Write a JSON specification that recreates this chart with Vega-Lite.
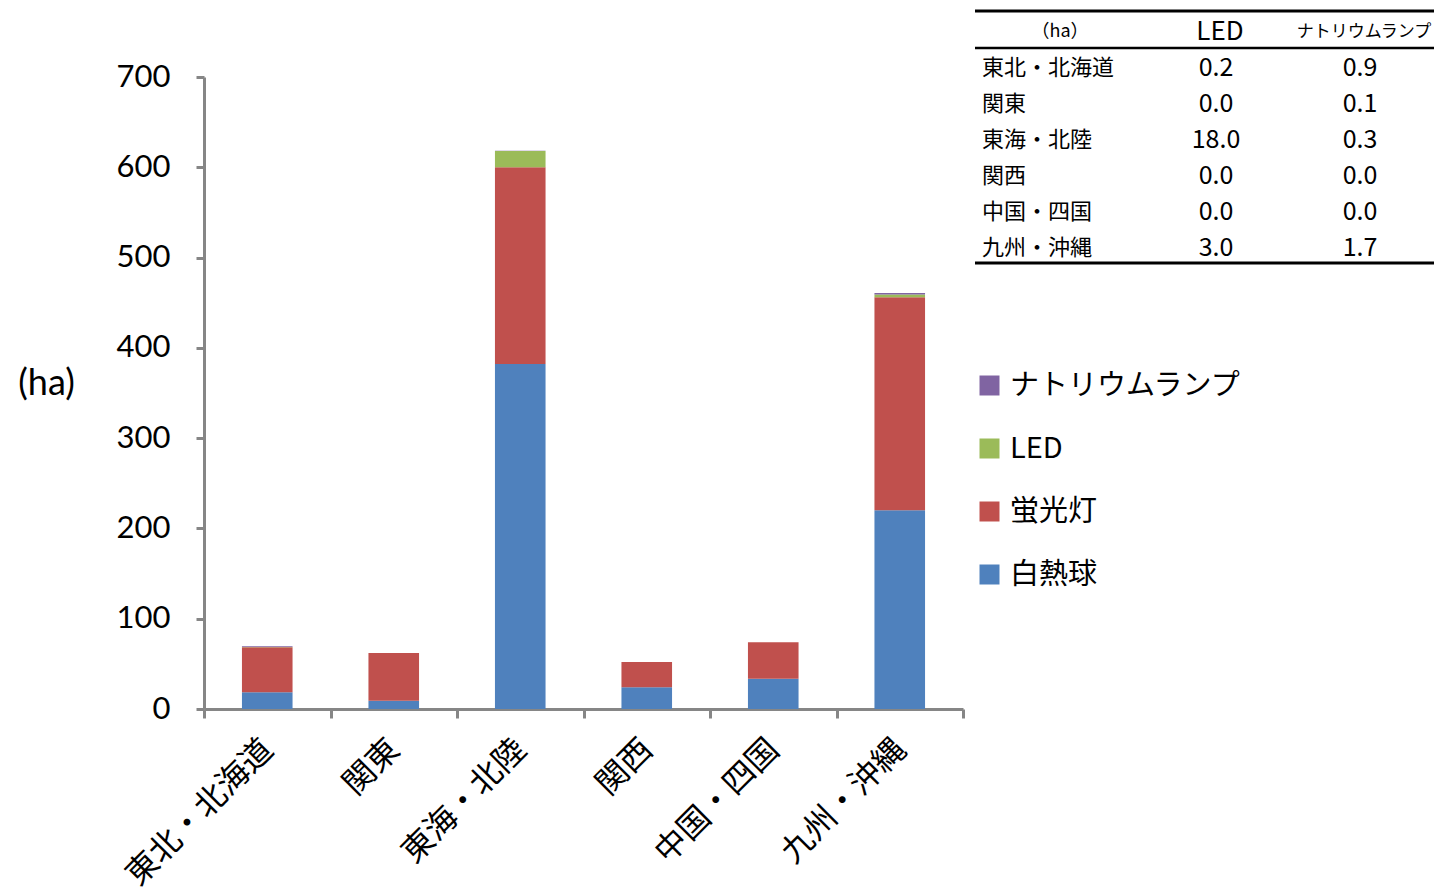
{
  "$schema": "https://vega.github.io/schema/vega-lite/v6.json",
  "width": 759,
  "height": 632,
  "autosize": "none",
  "padding": {"left": 204, "top": 77, "right": 471, "bottom": 186},
  "background": "white",
  "config": {"view": {"stroke": null}},
  "data": {
    "values": [
      {"region": "東北・北海道", "白熱球": 18.5, "蛍光灯": 50, "LED": 0.2, "ナトリウムランプ": 0.9},
      {"region": "関東", "白熱球": 9, "蛍光灯": 53, "LED": 0.0, "ナトリウムランプ": 0.1},
      {"region": "東海・北陸", "白熱球": 382, "蛍光灯": 218, "LED": 18.0, "ナトリウムランプ": 0.3},
      {"region": "関西", "白熱球": 24, "蛍光灯": 28, "LED": 0.0, "ナトリウムランプ": 0.0},
      {"region": "中国・四国", "白熱球": 33.5, "蛍光灯": 40.5, "LED": 0.0, "ナトリウムランプ": 0.0},
      {"region": "九州・沖縄", "白熱球": 220, "蛍光灯": 236, "LED": 3.0, "ナトリウムランプ": 1.7}
    ]
  },
  "layer": [
    {
      "transform": [
        {"fold": ["白熱球", "蛍光灯", "LED", "ナトリウムランプ"], "as": ["type", "value"]},
        {"window": [{"op": "row_number", "as": "k"}], "groupby": ["region"]}
      ],
      "mark": {"type": "bar", "width": {"band": 0.4}},
      "encoding": {
        "x": {
          "field": "region", "type": "nominal", "sort": null,
          "scale": {"paddingInner": 0, "paddingOuter": 0},
          "axis": {
            "title": null, "labelAngle": -45, "labelAlign": "right", "labelBaseline": "middle",
            "labelFont": "Noto Sans CJK JP", "labelFontSize": 32, "labelColor": "black", "labelLimit": 0,
            "labelPadding": 26, "domainColor": "#868686", "domainWidth": 3,
            "tickColor": "#868686", "tickWidth": 3, "tickSize": 9, "tickBand": "extent"
          }
        },
        "y": {
          "field": "value", "type": "quantitative", "stack": "zero",
          "scale": {"domain": [0, 700]},
          "axis": {
            "title": "(ha)", "titleAngle": 0, "titleX": -158, "titleY": 306,
            "titleAlign": "center", "titleBaseline": "middle", "titleFont": "Lato",
            "titleFontSize": 36, "titleFontWeight": "normal", "titleColor": "black",
            "values": [0, 100, 200, 300, 400, 500, 600, 700],
            "labelFont": "Lato", "labelFontSize": 31, "labelColor": "black", "labelPadding": 26,
            "tickSize": 8, "tickColor": "#868686", "tickWidth": 3,
            "domainColor": "#868686", "domainWidth": 3, "grid": false
          }
        },
        "color": {
          "field": "type", "type": "nominal",
          "scale": {
            "domain": ["ナトリウムランプ", "LED", "蛍光灯", "白熱球"],
            "range": ["#8064A2", "#9BBB59", "#C0504D", "#4F81BD"]
          },
          "legend": {
            "orient": "none", "legendX": 771, "legendY": 294, "title": null,
            "symbolType": "square", "symbolSize": 400, "symbolStrokeWidth": 0, "symbolOpacity": 1,
            "labelFont": "Noto Sans CJK JP", "labelFontSize": 29, "labelColor": "black", "labelLimit": 0,
            "rowPadding": 33, "labelOffset": 6
          }
        },
        "order": {"field": "k", "type": "quantitative"}
      }
    },
    {
      "layer": [
        {
          "mark": {"type": "text", "align": "left", "baseline": "middle", "font": "Noto Sans CJK JP", "fontSize": 22, "color": "black"},
          "encoding": {
            "x": {"datum": "name", "scale": {"type": "point", "domain": ["name", "LED", "ナトリウムランプ"], "range": [778, 1156], "padding": 0}, "axis": null},
            "y": {"field": "region", "type": "nominal", "scale": {"type": "point", "domain": ["(ha)", "東北・北海道", "関東", "東海・北陸", "関西", "中国・四国", "九州・沖縄"], "range": [-45, 171], "padding": 0}, "axis": null},
            "text": {"field": "region"}
          }
        },
        {
          "mark": {"type": "text", "align": "center", "baseline": "middle", "font": "Noto Sans CJK JP", "fontSize": 25, "color": "black", "xOffset": 45},
          "encoding": {
            "x": {"datum": "LED", "axis": null},
            "y": {"field": "region", "type": "nominal", "axis": null},
            "text": {"field": "LED", "type": "quantitative", "format": ".1f"}
          }
        },
        {
          "mark": {"type": "text", "align": "center", "baseline": "middle", "font": "Noto Sans CJK JP", "fontSize": 25, "color": "black"},
          "encoding": {
            "x": {"datum": "ナトリウムランプ", "axis": null},
            "y": {"field": "region", "type": "nominal", "axis": null},
            "text": {"field": "ナトリウムランプ", "type": "quantitative", "format": ".1f"}
          }
        },
        {
          "data": {"values": [{"h": "（ha）"}]},
          "mark": {"type": "text", "align": "center", "baseline": "middle", "font": "Noto Sans CJK JP", "fontSize": 18, "color": "black", "xOffset": 78},
          "encoding": {
            "x": {"datum": "name", "axis": null},
            "y": {"datum": "(ha)", "axis": null},
            "text": {"field": "h"}
          }
        },
        {
          "data": {"values": [{"h": "LED"}]},
          "mark": {"type": "text", "align": "center", "baseline": "middle", "font": "Noto Sans CJK JP", "fontSize": 26, "color": "black", "xOffset": 49},
          "encoding": {
            "x": {"datum": "LED", "axis": null},
            "y": {"datum": "(ha)", "axis": null},
            "text": {"field": "h"}
          }
        },
        {
          "data": {"values": [{"h": "ナトリウムランプ"}]},
          "mark": {"type": "text", "align": "center", "baseline": "middle", "font": "Noto Sans CJK JP", "fontSize": 17, "color": "black", "xOffset": 4},
          "encoding": {
            "x": {"datum": "ナトリウムランプ", "axis": null},
            "y": {"datum": "(ha)", "axis": null},
            "text": {"field": "h"}
          }
        },
        {
          "data": {"values": [{"r": "top"}]},
          "mark": {"type": "rule", "color": "black", "strokeWidth": 3, "xOffset": -7, "x2Offset": 74, "yOffset": -21},
          "encoding": {
            "x": {"datum": "name", "axis": null},
            "x2": {"datum": "ナトリウムランプ"},
            "y": {"datum": "(ha)", "axis": null}
          }
        },
        {
          "data": {"values": [{"r": "header"}]},
          "mark": {"type": "rule", "color": "black", "strokeWidth": 2.5, "xOffset": -7, "x2Offset": 74, "yOffset": 16},
          "encoding": {
            "x": {"datum": "name", "axis": null},
            "x2": {"datum": "ナトリウムランプ"},
            "y": {"datum": "(ha)", "axis": null}
          }
        },
        {
          "data": {"values": [{"r": "bottom"}]},
          "mark": {"type": "rule", "color": "black", "strokeWidth": 3, "xOffset": -7, "x2Offset": 74, "yOffset": 15},
          "encoding": {
            "x": {"datum": "name", "axis": null},
            "x2": {"datum": "ナトリウムランプ"},
            "y": {"datum": "九州・沖縄", "axis": null}
          }
        }
      ]
    }
  ],
  "resolve": {"scale": {"x": "independent", "y": "independent"}}
}
